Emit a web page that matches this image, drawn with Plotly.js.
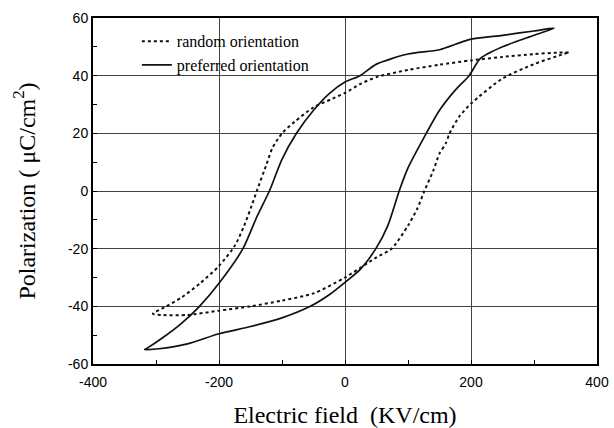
<!DOCTYPE html>
<html>
<head>
<meta charset="utf-8">
<script src="https://cdn.plot.ly/plotly-3.0.1.min.js"></script>
<style>html,body{margin:0;padding:0;background:#fff}#chart{width:614px;height:428px}</style>
</head>
<body>
<div id="chart"></div>
<script>
// random orientation loop (upper branch descending, then lower branch ascending)
var randomField = [355, 340, 300, 250, 200, 150, 100, 50, 25, 0, -20, -50, -80, -100, -115, -125, -140, -148, -160, -175, -200, -230, -260, -286,
                   -305, -290, -250, -200, -150, -100, -50, 0, 50, 74, 100, 115, 126, 140, 150, 160, 166, 181, 200, 250, 300, 340, 354];
var randomPol = [48, 48, 47.5, 46.5, 45.3, 43.8, 42, 39.5, 37.2, 34, 32, 29, 24, 20, 15, 9, 0, -5, -12, -19, -26, -32, -37, -40.3,
                 -42.6, -43, -43, -41.5, -40, -38, -35.5, -30, -23, -20, -12, -6, 0, 7, 13, 16.5, 20, 25.7, 30.3, 39, 44, 47, 48];
// preferred orientation loop
var preferredField = [332, 300, 250, 197, 150, 100, 50, 24, 0, -25, -50, -77, -100, -120, -140, -162, -200, -231, -260, -290, -314,
                      -318, -300, -250, -200, -150, -100, -55, -25, 0, 25, 49, 68, 86, 100, 129, 150, 175, 197, 215, 250, 300, 332];
var preferredPol = [56.5, 55.5, 54, 52.5, 49, 47.5, 44, 40, 37.8, 33.8, 28, 20, 11, 0, -9, -20, -32, -40, -46, -51, -54.5,
                    -55, -54.8, -53, -49.5, -47, -44, -40, -36, -31.7, -27, -20, -12, 0, 8, 20, 28, 35, 40, 46, 50, 54, 56.5];

var xTicks = [-400, -200, 0, 200, 400];
var yTicks = [-60, -40, -20, 0, 20, 40, 60];

var traces = [
  {x: randomField, y: randomPol, type: 'scatter', mode: 'lines', name: 'random orientation',
   line: {color: '#111', width: 2, dash: 'dot', shape: 'spline', smoothing: 0.7}},
  {x: preferredField, y: preferredPol, type: 'scatter', mode: 'lines', name: 'preferred orientation',
   line: {color: '#111', width: 1.7, shape: 'spline', smoothing: 0.7}}
];

var tickFont = {family: 'Liberation Sans, Arial, sans-serif', size: 14, color: '#000'};
var titleFont = {family: 'Liberation Serif, Times New Roman, serif', size: 24, color: '#000'};

var layout = {
  width: 614, height: 428,
  margin: {l: 93, r: 17, t: 18, b: 64},
  paper_bgcolor: '#fff', plot_bgcolor: '#fff',
  showlegend: true,
  legend: {x: 0.087, y: 0.982, xanchor: 'left', yanchor: 'top', bgcolor: 'rgba(0,0,0,0)',
           font: {family: 'Liberation Serif, Times New Roman, serif', size: 16, color: '#000'},
           tracegroupgap: 0},
  xaxis: {
    range: [-400, 400], tickvals: xTicks, ticktext: xTicks.map(String),
    showline: true, linecolor: '#000', linewidth: 2, mirror: true,
    showgrid: true, gridcolor: '#444', gridwidth: 1,
    zeroline: false, ticks: 'inside', ticklen: 4, tickcolor: '#000',
    minor: {dtick: 100, ticks: 'inside', ticklen: 4, tickcolor: '#000', showgrid: false},
    tickfont: tickFont, ticklabelstandoff: 4,
    title: {text: 'Electric field  (KV/cm)', font: titleFont, standoff: 19}
  },
  yaxis: {
    range: [-60, 60], tickvals: yTicks, ticktext: yTicks.map(String),
    showline: true, linecolor: '#000', linewidth: 2, mirror: true,
    showgrid: true, gridcolor: '#444', gridwidth: 1,
    zeroline: false, ticks: 'inside', ticklen: 4, tickcolor: '#000',
    minor: {dtick: 10, ticks: 'inside', ticklen: 4, tickcolor: '#000', showgrid: false},
    tickfont: tickFont,
    title: {text: 'Polarization ( \u03bcC/cm<sup>2</sup>)', font: titleFont, standoff: 26}
  }
};

Plotly.newPlot('chart', traces, layout, {staticPlot: true, displayModeBar: false});
</script>
</body>
</html>
